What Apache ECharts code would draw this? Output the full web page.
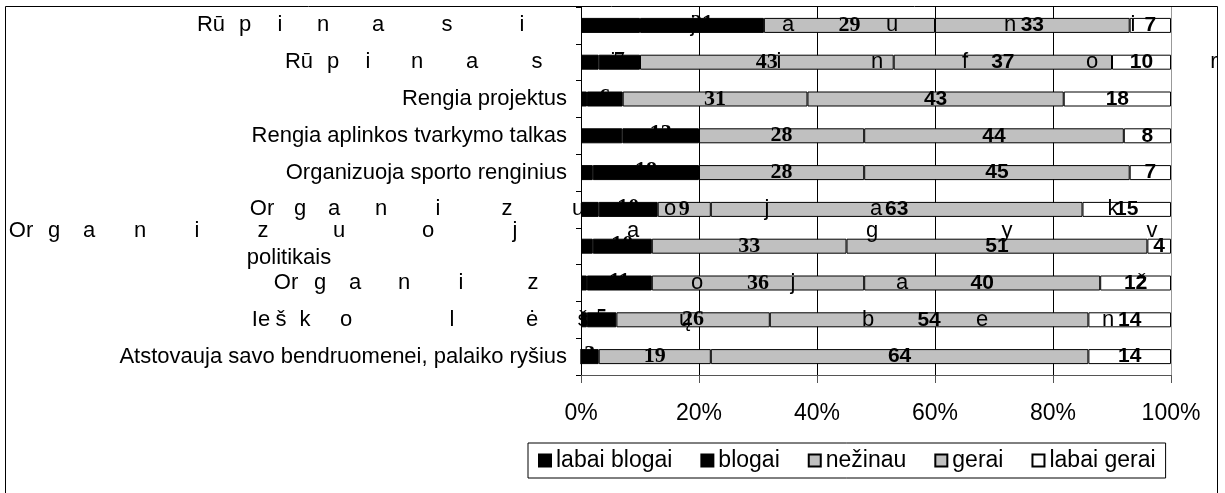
<!DOCTYPE html>
<html>
<head>
<meta charset="utf-8">
<script src="https://cdn.jsdelivr.net/npm/echarts@6/dist/echarts.min.js"></script>
<style>
html, body { margin: 0; padding: 0; background: #fff; }
#chart { width: 1225px; height: 493px; }
</style>
</head>
<body>
<div id="chart"></div>
<script>
// kategorijos, is virsaus i apacia
var categories = [
	'Rūpinasi jaunimu',
	'Rūpinasi informavimu',
	'Rengia projektus',
	'Rengia aplinkos tvarkymo talkas',
	'Organizuoja sporto renginius',
	'Organizuoja kultūrinius renginius',
	'Organizuoja gyventojų susitikimus su politikais',
	'Organizuoja žmonių švietimą',
	'Ieško lėšų bendruomenei',
	'Atstovauja savo bendruomenei, palaiko ryšius'
];
var seriesNames = ['labai blogai', 'blogai', 'nežinau', 'gerai', 'labai gerai'];
var labaiBlogai = [10, 3, 1, 7, 2, 3, 2, 1, 1, 0];
var blogai      = [21, 7, 6, 13, 18, 10, 10, 11, 5, 3];
var nezinau     = [29, 43, 31, 28, 28, 9, 33, 36, 26, 19];
var gerai       = [33, 37, 43, 44, 45, 63, 51, 40, 54, 64];
var labaiGerai  = [7, 10, 18, 8, 7, 15, 4, 12, 14, 14];
var tickLabels  = ['0%', '20%', '40%', '60%', '80%', '100%'];

// Excel "isskaidyti" pavadinimai: raides ir ju x vieta (px)
var glitchLabels = [
	{row: 0, dy: 0, parts: [['Rū', 211], ['p', 245], ['i', 280], ['n', 323], ['a', 378], ['s', 447], ['i', 522], ['j', 693], ['a', 788], ['u', 892], ['n', 1010], ['i', 1133]]},
	{row: 1, dy: 0, parts: [['Rū', 299], ['p', 333], ['i', 368], ['n', 417], ['a', 472], ['s', 537], ['i', 613], ['i', 779], ['n', 877], ['f', 965], ['o', 1092], ['r', 1214]]},
	{row: 5, dy: 0, parts: [['Or', 262], ['g', 300], ['a', 334], ['n', 381], ['i', 438], ['z', 507], ['u', 578], ['o', 670], ['j', 767], ['a', 876], ['k', 1113]]},
	{row: 6, dy: -15, parts: [['Or', 21], ['g', 54], ['a', 89], ['n', 140], ['i', 197], ['z', 263], ['u', 339], ['o', 428], ['j', 515], ['a', 633], ['g', 872], ['y', 1007], ['v', 1152]]},
	{row: 6, dy: 12, parts: [['politikais', 289]]},
	{row: 7, dy: 0, parts: [['Or', 286], ['g', 320], ['a', 355], ['n', 404], ['i', 461], ['z', 533], ['u', 615], ['o', 697], ['j', 793], ['a', 902], ['ž', 1142]]},
	{row: 8, dy: 0, parts: [['Ie', 261], ['š', 281], ['k', 305], ['o', 346], ['l', 452], ['ė', 532], ['š', 583], ['ų', 685], ['b', 868], ['e', 982], ['n', 1108]]}
];

var sansFont = '"Liberation Sans", Arial, sans-serif';
var serifFont = '"Liberation Serif", "Times New Roman", serif';
var colors = ['#000000', '#000000', '#c0c0c0', '#c0c0c0', '#ffffff'];

var rawValues = [labaiBlogai, blogai, nezinau, gerai, labaiGerai];
var totals = categories.map(function(c, i) {
	var s = 0;
	rawValues.forEach(function(arr) { s += arr[i]; });
	return s;
});

var glitchRows = {};
glitchLabels.forEach(function(g) { glitchRows[g.row] = true; });

var labelStyles = [
	{show: false},
	{show: true, color: '#000', fontFamily: serifFont, fontWeight: 'bold', fontSize: 22, offset: [0, -2]},
	{show: true, color: '#000', fontFamily: serifFont, fontWeight: 'bold', fontSize: 22},
	{show: true, color: '#000', fontFamily: sansFont, fontWeight: 'bold', fontSize: 21},
	{show: true, color: '#000', fontFamily: sansFont, fontWeight: 'bold', fontSize: 21}
];

var series = [];
for (var k = 0; k < rawValues.length; k++) {
	(function(k) {
		var raw = rawValues[k];
		var lbl = labelStyles[k];
		lbl.position = 'inside';
		lbl.formatter = function(p) {
			var v = raw[p.dataIndex];
			return v ? String(v) : '';
		};
		series.push({
			name: seriesNames[k],
			type: 'bar',
			stack: 'total',
			barWidth: 15,
			data: raw.map(function(v, i) { return v / totals[i] * 100; }),
			itemStyle: {color: colors[k], borderColor: '#000', borderWidth: 1},
			label: lbl,
			emphasis: {disabled: true},
			animation: false
		});
	})(k);
}

var myChart = echarts.init(document.getElementById('chart'), null, {renderer: 'canvas'});
var options = {
	animation: false,
	grid: {left: 581, right: 54, top: 7, bottom: 118, containLabel: false},
	xAxis: {
		type: 'value',
		min: 0,
		max: 100,
		interval: 20,
		axisLine: {show: true, lineStyle: {color: '#555', width: 1}},
		axisTick: {show: true, length: 8, lineStyle: {color: '#555'}},
		axisLabel: {
			margin: 27,
			fontFamily: sansFont,
			fontSize: 23,
			color: '#000',
			formatter: function(v) { return tickLabels[Math.round(v / 20)]; }
		},
		splitLine: {show: true, lineStyle: {color: ['#000', '#000', '#000', '#000', '#000', '#999'], width: 1}}
	},
	yAxis: {
		type: 'category',
		inverse: true,
		data: categories,
		axisLine: {show: true, lineStyle: {color: '#000', width: 1}},
		axisTick: {show: true, length: 5, lineStyle: {color: '#000'}},
		axisLabel: {
			margin: 14,
			fontFamily: sansFont,
			fontSize: 22,
			color: '#000',
			formatter: function(v, i) { return glitchRows[i] ? '' : v; }
		}
	},
	legend: {
		left: 528,
		top: 443,
		orient: 'horizontal',
		padding: [6, 10],
		itemGap: 28,
		itemWidth: 12,
		itemHeight: 12,
		icon: 'rect',
		borderColor: '#000',
		borderWidth: 1,
		textStyle: {fontFamily: sansFont, fontSize: 23, color: '#000'},
		data: seriesNames
	},
	series: series
};
myChart.setOption(options);

// remelis ir isskaidyti pavadinimai
var graphics = [{
	type: 'rect',
	silent: true,
	z: 100,
	shape: {x: 5.5, y: 6.5, width: 1212, height: 520},
	style: {fill: 'none', stroke: '#000', lineWidth: 1}
}];
glitchLabels.forEach(function(g) {
	var y = myChart.convertToPixel({yAxisIndex: 0}, categories[g.row]) + g.dy;
	g.parts.forEach(function(p) {
		graphics.push({
			type: 'text',
			silent: true,
			z: 50,
			x: p[1],
			y: y,
			style: {
				text: p[0],
				font: '22px ' + sansFont,
				fill: '#000',
				align: 'center',
				verticalAlign: 'middle',
				textAlign: 'center',
				textVerticalAlign: 'middle'
			}
		});
	});
});
myChart.setOption({graphic: graphics});
</script>
</body>
</html>
